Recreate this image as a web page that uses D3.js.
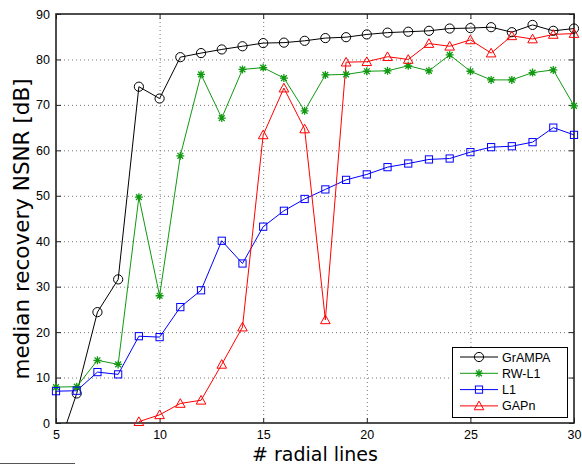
<!DOCTYPE html>
<html>
<head>
<meta charset="utf-8">
<script src="https://cdn.jsdelivr.net/npm/d3@7"></script>
<style>
    body { margin: 0; background: #fff; }
    text { font-family: "Liberation Sans", Arial, sans-serif; }
</style>
</head>
<body>
<div id="container"></div>
<script>
d3.select().__proto__.attrs = function(obj) { Object.keys(obj).forEach(k => this.attr(k.split(/(?=[A-Z])/).join('-').toLowerCase(), obj[k])); return this; };
const $ = (...args) => document.querySelector(...args);

const W = 582, H = 465;
const margin = { left: 56, right: 8, top: 14, bottom: 42 };

// number of radial lines
const radialLines = d3.range(5, 31);
const xTicks = [5, 10, 15, 20, 25, 30];
const yTicks = [0, 10, 20, 30, 40, 50, 60, 70, 80, 90];

// median recovery NSNR in dB, one entry per radial line count (null = no value)
const grampa = [-7, 6.5, 24.4, 31.6, 74.0, 71.4, 80.5, 81.4, 82.2, 82.9, 83.6, 83.7, 84.1, 84.7, 84.9, 85.5, 85.9, 86.1, 86.3, 86.8, 86.9, 87.1, 86.0, 87.6, 86.3, 86.8];
const rwl1 = [7.9, 8.0, 13.8, 12.9, 49.7, 28.0, 58.8, 76.7, 67.1, 77.8, 78.2, 75.9, 68.7, 76.6, 76.7, 77.4, 77.5, 78.6, 77.5, 81.0, 77.4, 75.5, 75.5, 77.1, 77.7, 69.8];
const l1 = [7.0, 7.1, 11.2, 10.7, 19.1, 18.9, 25.5, 29.2, 40.1, 35.1, 43.2, 46.7, 49.3, 51.4, 53.5, 54.7, 56.3, 57.1, 58.0, 58.2, 59.6, 60.7, 60.9, 61.8, 65.0, 63.4];
const gapn = [null, null, null, null, 0.3, 1.8, 4.3, 5.0, 12.9, 21.1, 63.4, 73.7, 64.7, 22.7, 79.4, 79.5, 80.6, 80.0, 83.5, 82.9, 84.3, 81.4, 85.2, 84.5, 85.5, 85.7];

const series = [
    { name: 'GrAMPA', values: grampa, color: '#000000', marker: 'circle' },
    { name: 'RW-L1', values: rwl1, color: '#119911', marker: 'star' },
    { name: 'L1', values: l1, color: '#0000ff', marker: 'square' },
    { name: 'GAPn', values: gapn, color: '#ff0000', marker: 'triangle' },
];

const svg = d3.select($('#container'))
    .append('svg')
    .attrs({ width: W, height: H, viewBox: [0, 0, W, H] });

const x = d3.scaleLinear().domain([5, 30]).range([margin.left, W - margin.right]);
const y = d3.scaleLinear().domain([0, 90]).range([H - margin.bottom, margin.top]);

svg.append('defs').append('clipPath').attr('id', 'plot-clip')
    .append('rect').attrs({ x: x(5), y: y(90), width: x(30) - x(5), height: y(0) - y(90) });

// grid
const grid = svg.append('g').attrs({ stroke: '#777', strokeWidth: 1, strokeDasharray: '1,3' });
grid.selectAll('.vg').data(xTicks.slice(1, -1)).join('line')
    .attrs({ x1: d => x(d) + 0.5, x2: d => x(d) + 0.5, y1: y(90), y2: y(0) });
grid.selectAll('.hg').data(yTicks.slice(1, -1)).join('line')
    .attrs({ x1: x(5), x2: x(30), y1: d => y(d) + 0.5, y2: d => y(d) + 0.5 });

// axes, matlab style: ticks point inwards on all four sides
const tickLen = 5;
const styleAxis = g => {
    g.select('.domain').remove();
    g.selectAll('.tick line').attrs({ stroke: '#222', strokeWidth: 1 });
    g.selectAll('.tick text').attrs({ fill: '#000' }).style('font-size', '12.5px');
};
svg.append('g').attr('transform', `translate(0,${y(0)})`)
    .call(d3.axisBottom(x).tickValues(xTicks).tickSize(-tickLen).tickPadding(7))
    .call(styleAxis);
svg.append('g').attr('transform', `translate(0,${y(90)})`)
    .call(d3.axisTop(x).tickValues(xTicks).tickSize(-tickLen).tickFormat(''))
    .call(styleAxis);
svg.append('g').attr('transform', `translate(${x(5)},0)`)
    .call(d3.axisLeft(y).tickValues(yTicks).tickSize(-tickLen).tickPadding(6))
    .call(styleAxis);
svg.append('g').attr('transform', `translate(${x(30)},0)`)
    .call(d3.axisRight(y).tickValues(yTicks).tickSize(-tickLen).tickFormat(''))
    .call(styleAxis);

svg.append('rect')
    .attrs({ x: x(5), y: y(90), width: x(30) - x(5), height: y(0) - y(90), fill: 'none', stroke: '#222', strokeWidth: 1.6 });

// markers
const drawMarker = (g, type, color, cx, cy, s = 1) => {
    if (type === 'circle') {
        g.append('circle').attrs({ cx, cy, r: 4.6 * s, fill: 'none', stroke: color, strokeWidth: 1 });
    } else if (type === 'square') {
        const h = 3.6 * s;
        g.append('rect').attrs({ x: cx - h, y: cy - h, width: 2 * h, height: 2 * h, fill: 'none', stroke: color, strokeWidth: 1 });
    } else if (type === 'triangle') {
        const h = 4.8 * s;
        g.append('path').attrs({ d: `M${cx},${cy - h}L${cx + h},${cy + h * 0.8}L${cx - h},${cy + h * 0.8}Z`, fill: 'none', stroke: color, strokeWidth: 1 });
    } else if (type === 'star') {
        const h = 4 * s, d = h * 0.72;
        g.append('path').attrs({
            d: `M${cx - h},${cy}H${cx + h}M${cx},${cy - h}V${cy + h}M${cx - d},${cy - d}L${cx + d},${cy + d}M${cx - d},${cy + d}L${cx + d},${cy - d}`,
            stroke: color, strokeWidth: 1.3
        });
    }
};

// lines are clipped to the axes box, markers inside the y range are drawn whole
const plot = svg.append('g').attr('clip-path', 'url(#plot-clip)');
const markers = svg.append('g');
const line = d3.line()
    .defined(d => d.v !== null)
    .x(d => x(d.x))
    .y(d => y(d.v));

series.forEach(s => {
    const pts = radialLines.map((r, i) => ({ x: r, v: s.values[i] }));
    plot.append('path').datum(pts)
        .attrs({ d: line, fill: 'none', stroke: s.color, strokeWidth: 1 });
    const mg = markers.append('g');
    pts.filter(p => p.v !== null && p.v >= 0 && p.v <= 90)
        .forEach(p => drawMarker(mg, s.marker, s.color, x(p.x), y(p.v)));
});

// legend
const lg = svg.append('g').attr('transform', `translate(452,347)`);
lg.append('rect').attrs({ x: 0.5, y: 0.5, width: 115, height: 70, fill: '#fff', stroke: '#000', strokeWidth: 1 });
series.forEach((s, i) => {
    const ly = 10 + i * 16.3;
    lg.append('line').attrs({ x1: 8, x2: 46, y1: ly, y2: ly, stroke: s.color, strokeWidth: 1 });
    drawMarker(lg, s.marker, s.color, 27, ly);
    lg.append('text').attrs({ x: 50, y: ly + 4.5, fill: '#000' }).style('font-size', '12.5px').text(s.name);
});

// axis labels
svg.append('text')
    .attrs({ x: (x(5) + x(30)) / 2, y: 461, textAnchor: 'middle', fill: '#000' })
    .style('font-family', '"DejaVu Sans", sans-serif')
    .style('font-size', '19px')
    .text('# radial lines');
svg.append('text')
    .attrs({ transform: `translate(28.5,229) rotate(-90)`, textAnchor: 'middle', fill: '#000' })
    .style('font-family', '"DejaVu Sans", sans-serif')
    .style('font-size', '21.5px')
    .text('median recovery NSNR [dB]');

// stray rule at the bottom left of the original figure
svg.append('line').attrs({ x1: 0, x2: 75, y1: 463.5, y2: 463.5, stroke: '#555', strokeWidth: 1 });
</script>
</body>
</html>
